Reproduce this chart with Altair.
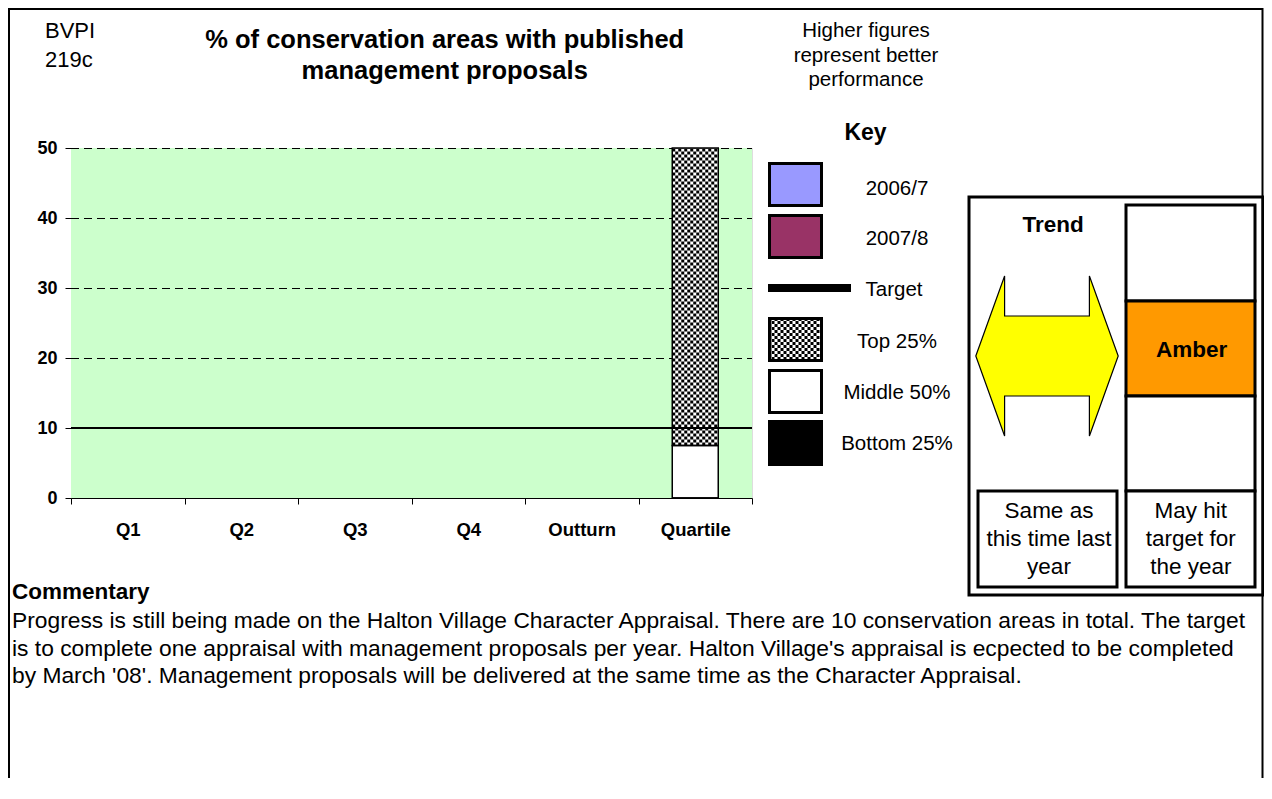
import altair as alt
import pandas as pd

# ---------------- data ----------------
categories = ["Q1", "Q2", "Q3", "Q4", "Outturn", "Quartile"]
periods = ["Q1", "Q2", "Q3", "Q4", "Outturn"]
series_names = ["2006/7", "2007/8"]
values_2006_7 = [None, None, None, None, None]
values_2007_8 = [None, None, None, None, None]
target_value = 10
quartile_segments = ["Bottom 25%", "Middle 50%", "Top 25%"]
quartile_sizes = [0, 7.5, 42.5]
y_ticks = [0, 10, 20, 30, 40, 50]
key_labels = ["2006/7", "2007/8", "Target", "Top 25%", "Middle 50%", "Bottom 25%"]
title_lines = ["% of conservation areas with published", "management proposals"]
note_lines = ["Higher figures", "represent better", "performance"]
trend_text = ["Same as", "this time last", "year"]
status_text = ["May hit", "target for", "the year"]
commentary_lines = [
    "Progress is still being made on the Halton Village Character Appraisal. There are 10 conservation areas in total. The target",
    "is to complete one appraisal with management proposals per year. Halton Village's appraisal is ecpected to be completed",
    "by March '08'. Management proposals will be delivered at the same time as the Character Appraisal.",
]

# ---------------- tables ----------------
series_rows = []
for name, vals in zip(series_names, [values_2006_7, values_2007_8]):
    for p, v in zip(periods, vals):
        series_rows.append({"category": p, "series": name, "value": v})
df_series = pd.DataFrame(series_rows)

q_rows = []
acc = 0.0
for seg, size in zip(quartile_segments, quartile_sizes):
    q_rows.append({"category": "Quartile", "segment": seg, "start": acc, "end": acc + size})
    acc += size
df_q = pd.DataFrame(q_rows)
df_top = df_q[df_q["segment"] == "Top 25%"]
df_target = pd.DataFrame({"target": [target_value]})
df_grid = pd.DataFrame({"tick": [t for t in y_ticks if t > 0]})
one = pd.DataFrame({"k": [0]})

FONT = "Liberation Sans"
W, H = 681, 350

xscale = alt.Scale(domain=categories, paddingInner=0, paddingOuter=0)
yscale = alt.Scale(domain=[0, 50], nice=False)

x_axis = alt.Axis(title=None, tickBand="extent", labelAngle=0, labelFontWeight="bold",
                  labelFontSize=18.5, labelColor="black", tickColor="black", tickSize=6,
                  domainColor="black", labelPadding=16, grid=False, labelFont=FONT)
y_axis = alt.Axis(title=None, values=y_ticks, grid=False, labelFontWeight="bold", labelFontSize=18,
                  labelColor="black", tickColor="black", tickSize=6, domainColor="black",
                  labelPadding=8, labelFont=FONT)

layers = []

def rect(x1, x2, y1, y2, fill="white", stroke="black", sw=3, fo=1):
    return alt.Chart(one).mark_rect(fill=fill, fillOpacity=fo, stroke=stroke, strokeWidth=sw).encode(
        x=alt.value(x1), x2=alt.value(x2), y=alt.value(y1), y2=alt.value(y2))

def text(lines, x, y, size=20, weight="normal", align="center", lh=None):
    kw = {}
    if lh is not None:
        kw["lineHeight"] = lh
    return alt.Chart(one).mark_text(text=lines, font=FONT, fontSize=size, fontWeight=weight,
                                    align=align, baseline="alphabetic", color="black", **kw).encode(
        x=alt.value(x), y=alt.value(y))

# page frame and plot background
layers.append(rect(-62, 1191.5, -139, 900, fo=0, sw=2))
layers.append(rect(0, W, 0, H, fill="#CCFFCC", sw=0))

# dashed gridlines
layers.append(alt.Chart(df_grid).mark_rule(color="black", strokeWidth=1, strokeDash=[8, 5], yOffset=0.5).encode(
    y=alt.Y("tick:Q", scale=yscale, axis=y_axis), x=alt.value(0), x2=alt.value(W)))

# series bars (no values in this period)
layers.append(alt.Chart(df_series).mark_bar(stroke="black", strokeWidth=1).encode(
    x=alt.X("category:N", scale=xscale, axis=x_axis, sort=categories),
    xOffset=alt.XOffset("series:N", sort=series_names),
    y=alt.Y("value:Q"),
    color=alt.Color("series:N", scale=alt.Scale(domain=series_names, range=["#9999FF", "#993366"]), legend=None),
))

# quartile bar fills
layers.append(alt.Chart(df_q).mark_bar(size=46, strokeWidth=0).encode(
    x=alt.X("category:N"),
    y=alt.Y("start:Q"), y2="end:Q",
    fill=alt.Fill("segment:N", scale=alt.Scale(domain=quartile_segments, range=["black", "white", "white"]), legend=None),
))
# checker texture on top quartile
for k in range(15):
    layers.append(alt.Chart(df_top).mark_rule(
        xOffset=-21.5 + 3 * k, strokeWidth=3, strokeDash=[3, 3],
        strokeDashOffset=3 * (k % 2), color="black").encode(
        x=alt.X("category:N"), y=alt.Y("start:Q"), y2="end:Q"))
# quartile outlines
layers.append(alt.Chart(df_q).mark_bar(size=46, fillOpacity=0, stroke="black", strokeWidth=1.5).encode(
    x=alt.X("category:N"), y=alt.Y("start:Q"), y2="end:Q"))

# target line
layers.append(alt.Chart(df_target).mark_rule(color="black", strokeWidth=2).encode(
    y=alt.Y("target:Q"), x=alt.value(0), x2=alt.value(W)))

# ---------------- key ----------------
KX1, KX2 = 698.5, 750.5
layers.append(rect(KX1, KX2, 15.5, 57.5, fill="#9999FF"))
layers.append(rect(KX1, KX2, 67.5, 109.5, fill="#993366"))
layers.append(alt.Chart(one).mark_rule(color="black", strokeWidth=8).encode(
    x=alt.value(697), x2=alt.value(780), y=alt.value(140), y2=alt.value(140)))
layers.append(rect(KX1, KX2, 170.5, 212.5, fill="white", sw=0))
for k in range(17):
    layers.append(alt.Chart(one).mark_rule(strokeWidth=3, strokeDash=[3, 3],
                                           strokeDashOffset=3 * (k % 2), color="black").encode(
        x=alt.value(699 + 3 * k), y=alt.value(170), y2=alt.value(213)))
layers.append(rect(KX1, KX2, 170.5, 212.5, fill="white", fo=0))
layers.append(rect(KX1, KX2, 222.5, 264.5, fill="white"))
layers.append(rect(KX1, KX2, 273.5, 316.5, fill="black"))

key_y = [46.5, 97, 147.5, 200, 251, 302]
key_x = [826, 826, 823, 826, 826, 826]
for lab, kx, ky in zip(key_labels, key_x, key_y):
    layers.append(text(lab, kx, ky, size=20.5))
layers.append(text("Key", 794.5, -8, size=23, weight="bold"))

# ---------------- trend panel ----------------
layers.append(rect(898, 1192, 49, 447, fo=0))
layers.append(rect(1055, 1184, 57, 153))
layers.append(rect(1055, 1184, 153, 248, fill="#FF9900"))
layers.append(rect(1055, 1184, 248, 343))
layers.append(rect(1055, 1184, 343, 439))
layers.append(rect(907, 1046, 343, 439))
arrow = "M-0.89,0 L-0.53,-1 L-0.53,-0.5 L0.53,-0.5 L0.53,-1 L0.89,0 L0.53,1 L0.53,0.5 L-0.53,0.5 L-0.53,1 Z"
layers.append(alt.Chart(one).mark_point(shape=arrow, size=25600, filled=True, fill="#FFFF00",
                                        stroke="black", strokeWidth=1.2, opacity=1).encode(
    x=alt.value(976), y=alt.value(208)))
layers.append(text("Trend", 982, 83.5, size=22.5, weight="bold"))
layers.append(text("Amber", 1120.7, 208.5, size=22.5, weight="bold"))
layers.append(text(trend_text, 978, 370, size=22.5, lh=28))
layers.append(text(status_text, 1119.8, 370, size=22.5, lh=28))

# ---------------- headings ----------------
layers.append(text(["BVPI", "219c"], -26, -110, size=22, align="left", lh=28.5))
layers.append(text(title_lines, 373.7, -100.5, size=25.5, weight="bold", lh=31.6))
layers.append(text(note_lines, 795, -111, size=20.5, lh=24.7))

# ---------------- commentary ----------------
layers.append(text("Commentary", -59, 451, size=22.5, weight="bold", align="left"))
layers.append(text(commentary_lines, -59, 480, size=22.8, align="left", lh=27.5))

chart = alt.layer(*layers).resolve_scale(color="independent", fill="independent").properties(
    width=W, height=H,
    autosize=alt.AutoSizeParams(type="none"),
    padding={"left": 63, "top": 140, "right": 512, "bottom": 280},
    background="white",
).configure_view(strokeWidth=0).configure(font=FONT)

chart.save("out.html", embed_options={"renderer": "svg", "actions": False})
